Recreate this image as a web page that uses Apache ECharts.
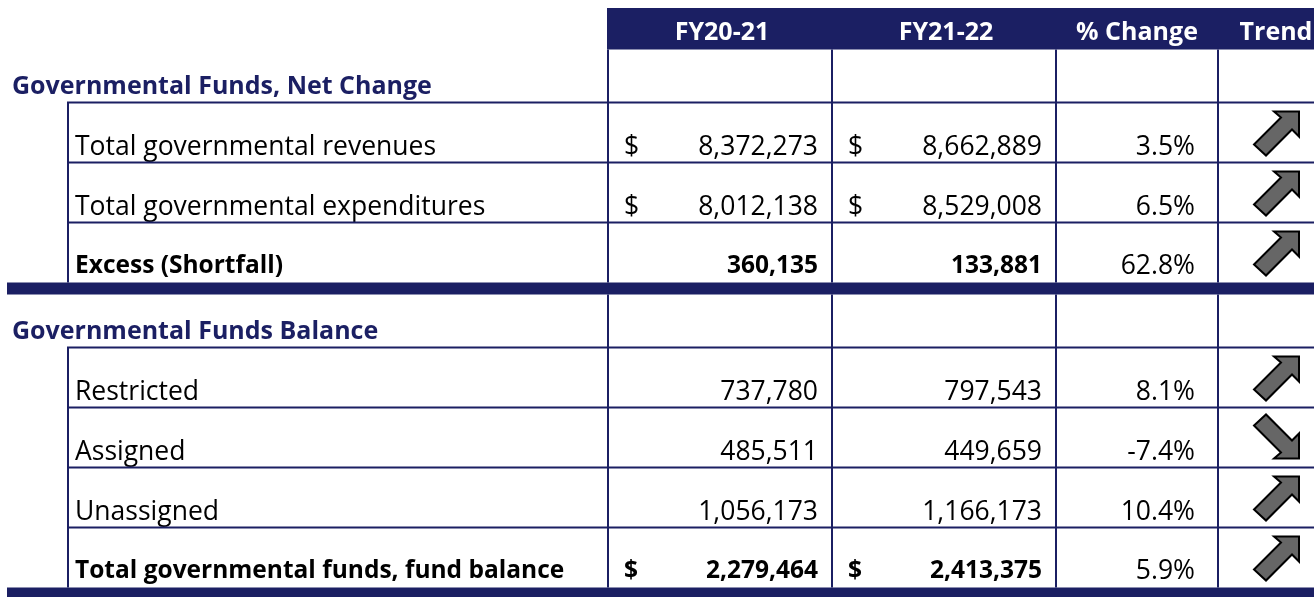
<!DOCTYPE html>
<html>
<head>
<meta charset="utf-8">
<script src="https://cdn.jsdelivr.net/npm/echarts@6/dist/echarts.min.js"></script>
<style>
html,body{margin:0;padding:0;background:#fff;}
#chart{width:1314px;height:597px;}
</style>
</head>
<body>
<div id="chart"></div>
<script>
// ---- data ----
const headers = ['FY20-21', 'FY21-22', '% Change', 'Trend'];
const sections = ['Governmental Funds, Net Change', 'Governmental Funds Balance'];
const sectionRows = [[0, 1, 2], [3, 4, 5, 6]];
const categories = [
  'Total governmental revenues',
  'Total governmental expenditures',
  'Excess (Shortfall)',
  'Restricted',
  'Assigned',
  'Unassigned',
  'Total governmental funds, fund balance'
];
const fy2021 = [8372273, 8012138, 360135, 737780, 485511, 1056173, 2279464];
const fy2122 = [8662889, 8529008, 133881, 797543, 449659, 1166173, 2413375];
const pctChange = [3.5, 6.5, 62.8, 8.1, -7.4, 10.4, 5.9];
const showDollar = [true, true, false, false, false, false, true];
const boldRow = [false, false, true, false, false, false, true];

// ---- layout / style (not data) ----
const NAVY = '#1b1f63';
const FONT = '"Open Sans", "Noto Sans", sans-serif';
const L = {
  width: 1314, height: 597,
  gapTop: 8, headerH: 41.5, sectionH: 53, rowH: 60, bandH: [12, 10],
  bandLeft: 7, innerLeft: 68, headerLeft: 607,
  colLines: [608, 832, 1056, 1218],
  headingX: 12, labelX: 75,
  dollarX: [624, 848], numRight: [818, 1042], pctRight: 1195,
  headerCenters: [722, 946, 1137, 1276], arrowX: 1276,
  regSize: 26.5, boldSize: 24.5, headSize: 25
};

// Build row sequence
const rows = [];
let y = L.gapTop;
rows.push({ type: 'header', top: y, bottom: y + L.headerH }); y += L.headerH;
sectionRows.forEach((idxs, s) => {
  rows.push({ type: 'section', s, top: y, bottom: y + L.sectionH }); y += L.sectionH;
  idxs.forEach((i, k) => {
    rows.push({ type: 'data', i, last: k === idxs.length - 1, top: y, bottom: y + L.rowH }); y += L.rowH;
  });
  rows.push({ type: 'band', top: y, bottom: y + L.bandH[s] }); y += L.bandH[s];
});

const MID = 0.245; // baseline offset ratio for 'middle'
function txt(api, x, baseline, text, opt) {
  const fs = opt.size;
  const p = api.coord([x, baseline - MID * fs]);
  return {
    type: 'text', x: p[0], y: p[1], silent: true,
    style: {
      text: text, fill: opt.fill || '#000',
      fontSize: fs, fontFamily: FONT, fontWeight: opt.bold ? 'bold' : 'normal',
      align: opt.align || 'left', verticalAlign: 'middle',
      textAlign: opt.align || 'left', textVerticalAlign: 'middle'
    }
  };
}
function hline(api, x1, x2, yy, w) {
  const a = api.coord([x1, yy]), b = api.coord([x2, yy]);
  return { type: 'line', silent: true, shape: { x1: a[0], y1: a[1], x2: b[0], y2: b[1] }, style: { stroke: NAVY, lineWidth: w || 2 } };
}
function vline(api, xx, y1, y2) {
  const a = api.coord([xx, y1]), b = api.coord([xx, y2]);
  return { type: 'line', silent: true, shape: { x1: a[0], y1: a[1], x2: b[0], y2: b[1] }, style: { stroke: NAVY, lineWidth: 2 } };
}
function rect(api, x1, y1, x2, y2) {
  const a = api.coord([x1, y1]), b = api.coord([x2, y2]);
  return { type: 'rect', silent: true, shape: { x: a[0], y: a[1], width: b[0] - a[0], height: b[1] - a[1] }, style: { fill: NAVY } };
}
const ARROW_UP = [[23, -21], [23, 4], [16, -3], [-10, 23], [-22, 12], [5, -15], [-2, -21]];
function arrow(api, cx, cy, up) {
  const c = api.coord([cx, cy]);
  const pts = ARROW_UP.map(p => [c[0] + p[0], c[1] + (up ? p[1] : -p[1])]);
  return { type: 'polygon', silent: true, shape: { points: pts }, style: { fill: '#666666', stroke: '#000', lineWidth: 2, lineJoin: 'miter' } };
}
const fmt = v => v.toLocaleString('en-US');

function renderItem(params, api) {
  const r = rows[api.value(0)];
  const ch = [];
  if (r.type === 'header') {
    ch.push(rect(api, L.headerLeft, r.top, L.width, r.bottom));
    headers.forEach((h, k) => {
      ch.push(txt(api, L.headerCenters[k], r.bottom - 11, h, { size: L.headSize, bold: true, fill: '#fff', align: 'center' }));
    });
  } else if (r.type === 'section') {
    L.colLines.forEach(x => ch.push(vline(api, x, r.top, r.bottom)));
    ch.push(txt(api, L.headingX, r.bottom - 9.3, sections[r.s], { size: L.headSize, bold: true, fill: NAVY }));
  } else if (r.type === 'data') {
    const i = r.i;
    ch.push(hline(api, L.innerLeft - 1, L.width, r.top));
    [L.innerLeft].concat(L.colLines).forEach(x => ch.push(vline(api, x, r.top, r.bottom)));
    const b = r.bottom - (r.last ? 10 : 8.7);
    const bold = boldRow[i];
    const sz = bold ? L.boldSize : L.regSize;
    ch.push(txt(api, L.labelX, b, categories[i], { size: sz, bold }));
    [fy2021[i], fy2122[i]].forEach((v, k) => {
      if (showDollar[i]) ch.push(txt(api, L.dollarX[k], b, '$', { size: sz, bold }));
      ch.push(txt(api, L.numRight[k], b, fmt(v), { size: sz, bold, align: 'right' }));
    });
    ch.push(txt(api, L.pctRight, b, pctChange[i].toFixed(1) + '%', { size: L.regSize, align: 'right' }));
    ch.push(arrow(api, L.arrowX, (r.top + r.bottom) / 2, pctChange[i] >= 0));
  } else if (r.type === 'band') {
    ch.push(rect(api, L.bandLeft, r.top, L.width, r.bottom));
  }
  return { type: 'group', children: ch };
}

const chart = echarts.init(document.getElementById('chart'), null, { renderer: 'canvas' });
chart.setOption({
  animation: false,
  grid: { left: 0, right: 0, top: 0, bottom: 0, containLabel: false },
  xAxis: { type: 'value', min: 0, max: L.width, show: false },
  yAxis: { type: 'value', min: 0, max: L.height, inverse: true, show: false },
  series: [{
    type: 'custom',
    coordinateSystem: 'cartesian2d',
    renderItem: renderItem,
    clip: false,
    silent: true,
    data: rows.map((r, k) => [k])
  }]
});
</script>
</body>
</html>
